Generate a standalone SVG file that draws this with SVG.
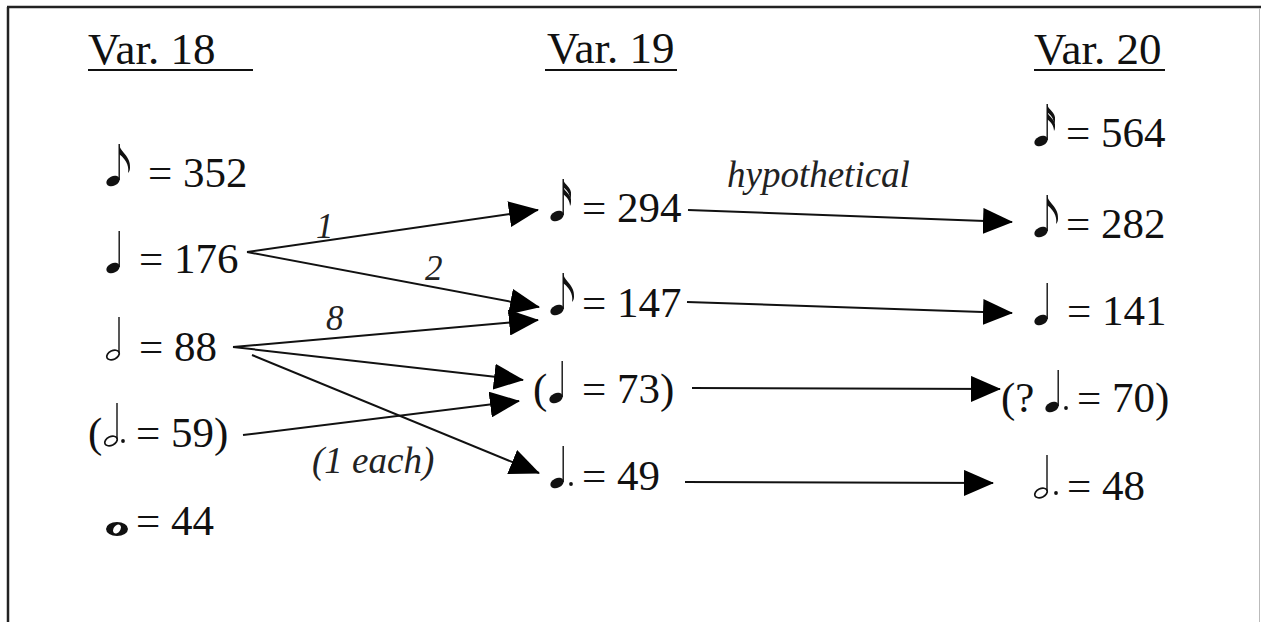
<svg xmlns="http://www.w3.org/2000/svg" width="1261" height="622" viewBox="0 0 1261 622">
<style>
.t{font-family:"Times New Roman","Liberation Serif","DejaVu Serif",serif;font-size:43px;fill:#111}
.h{font-family:"Times New Roman","Liberation Serif","DejaVu Serif",serif;font-size:45px;fill:#111}
.l{font-family:"Times New Roman","Liberation Serif","DejaVu Serif",serif;font-size:37px;font-style:italic;fill:#222}
.n{font-family:"Times New Roman","Liberation Serif","DejaVu Serif",serif;font-size:35px;font-style:italic;fill:#222}
.c{stroke:#111;stroke-width:2;fill:none}
.u{stroke:#111;stroke-width:2.2}
.stem{stroke:#111;stroke-width:1.4}
</style>
<defs>
<marker id="ah" markerUnits="userSpaceOnUse" markerWidth="30" markerHeight="26" refX="29" refY="13" orient="auto">
<path d="M0,0 L30,13 L0,26 Z" fill="#000"/>
</marker>
<g id="headF"><ellipse cx="0" cy="0" rx="7" ry="4.8" transform="rotate(-25)" fill="#111"/></g>
<g id="headH"><ellipse cx="0" cy="0" rx="6.6" ry="4.3" transform="rotate(-25)" fill="#fff" stroke="#111" stroke-width="1.7"/></g>
<g id="quarter"><use href="#headF"/><line class="stem" x1="6.2" y1="-1" x2="6.2" y2="-37"/></g>
<g id="eighth"><use href="#quarter"/><path d="M6,-37 C7,-29 18,-25 17,-13 C17,-11 16,-9 15,-8 C16,-13 15,-20 6,-27 Z" fill="#111"/></g>
<g id="sixteenth"><use href="#quarter"/><path d="M6,-37 C7,-31 15,-29 14,-21 C14,-19 13.5,-18 13,-17 C13,-22 10,-26 6,-29 Z" fill="#111"/><path d="M6,-30 C7,-24 15,-22 14,-14 C14,-12 13.5,-11 13,-10 C13,-15 10,-19 6,-22 Z" fill="#111"/></g>
<g id="half"><use href="#headH"/><line class="stem" x1="6" y1="-2" x2="6" y2="-38"/></g>
<g id="dot"><circle cx="0" cy="0" r="1.9" fill="#111"/></g>
<g id="whole"><ellipse cx="0" cy="0" rx="11" ry="7" fill="#111"/><ellipse cx="0" cy="0" rx="3.3" ry="5" transform="rotate(35)" fill="#fff"/></g>
</defs>
<g id="frame">
<line x1="8" y1="7" x2="8" y2="622" stroke="#222" stroke-width="2.5"/>
<line x1="7" y1="7" x2="1261" y2="7" stroke="#222" stroke-width="2.5"/>
<line x1="1259.5" y1="8" x2="1259.5" y2="622" stroke="#bbb" stroke-width="1"/>
</g>
<g id="headers">
<text class="h" x="88" y="64">Var. 18</text><line class="u" x1="88" y1="70" x2="253" y2="70"/>
<text class="h" x="547" y="63">Var. 19</text><line class="u" x1="545" y1="70" x2="677" y2="70"/>
<text class="h" x="1034" y="64">Var. 20</text><line class="u" x1="1034" y1="70" x2="1165" y2="70"/>
</g>
<g id="v18-352"><use href="#eighth" x="113" y="181"/><text class="t" x="148" y="187">= 352</text></g>
<g id="v18-176"><use href="#quarter" x="113" y="268"/><text class="t" x="139" y="273">= 176</text></g>
<g id="v18-88"><use href="#half" x="113" y="355"/><text class="t" x="139" y="361">= 88</text></g>
<g id="v18-59"><text class="t" x="88" y="447">(</text><use href="#half" x="111" y="441"/><use href="#dot" x="123" y="441"/><text class="t" x="136" y="447">= 59)</text></g>
<g id="v18-44"><use href="#whole" x="117" y="529"/><text class="t" x="136" y="535">= 44</text></g>
<g id="v19-294"><use href="#sixteenth" x="557" y="216"/><text class="t" x="582" y="222">= 294</text></g>
<g id="v19-147"><use href="#eighth" x="557" y="310"/><text class="t" x="582" y="317">= 147</text></g>
<g id="v19-73"><text class="t" x="533" y="403">(</text><use href="#quarter" x="556" y="398"/><text class="t" x="582" y="403">= 73)</text></g>
<g id="v19-49"><use href="#quarter" x="557" y="483"/><use href="#dot" x="571" y="484"/><text class="t" x="582" y="490">= 49</text></g>
<g id="v20-564"><use href="#sixteenth" x="1041" y="141"/><text class="t" x="1066" y="147">= 564</text></g>
<g id="v20-282"><use href="#eighth" x="1041" y="232"/><text class="t" x="1066" y="238">= 282</text></g>
<g id="v20-141"><use href="#quarter" x="1041" y="320"/><text class="t" x="1067" y="325">= 141</text></g>
<g id="v20-70"><text class="t" x="1001" y="412">(?</text><use href="#quarter" x="1052" y="407"/><use href="#dot" x="1066" y="408"/><text class="t" x="1077" y="412">= 70)</text></g>
<g id="v20-48"><use href="#half" x="1041" y="493"/><use href="#dot" x="1056" y="493"/><text class="t" x="1067" y="500">= 48</text></g>
<g id="connectors">
<line class="c" x1="247" y1="252" x2="538" y2="210" marker-end="url(#ah)"/>
<line class="c" x1="247" y1="252" x2="539" y2="307" marker-end="url(#ah)"/>
<line class="c" x1="233" y1="347" x2="538" y2="320" marker-end="url(#ah)"/>
<line class="c" x1="233" y1="347" x2="523" y2="380" marker-end="url(#ah)"/>
<line class="c" x1="252" y1="355" x2="539" y2="473" marker-end="url(#ah)"/>
<line class="c" x1="243" y1="435" x2="519" y2="401" marker-end="url(#ah)"/>
<line class="c" x1="688" y1="210" x2="1012" y2="222" marker-end="url(#ah)"/>
<line class="c" x1="687" y1="302" x2="1012" y2="313" marker-end="url(#ah)"/>
<line class="c" x1="692" y1="388" x2="1000" y2="389" marker-end="url(#ah)"/>
<line class="c" x1="685" y1="482" x2="993" y2="483" marker-end="url(#ah)"/>
</g>
<g id="labels">
<text class="n" x="316" y="238">1</text>
<text class="n" x="425" y="280">2</text>
<text class="n" x="326" y="330">8</text>
<text class="l" x="312" y="473">(1 each)</text>
<text class="l" x="727" y="187">hypothetical</text>
</g>
</svg>
